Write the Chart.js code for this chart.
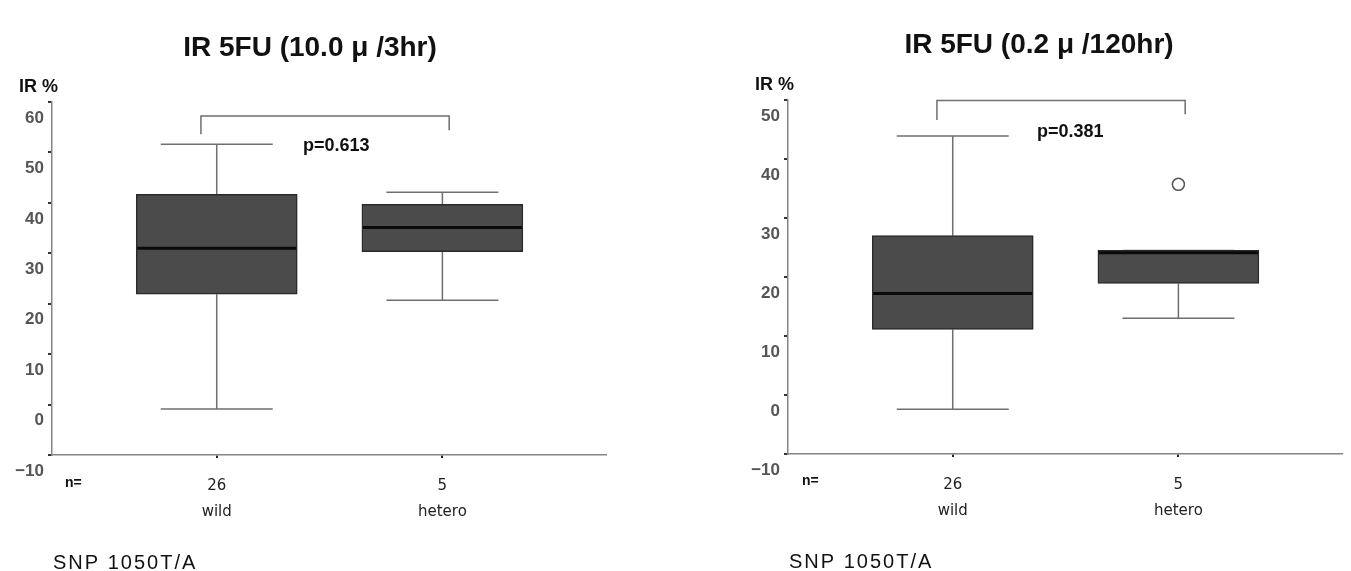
<!DOCTYPE html>
<html>
<head>
<meta charset="utf-8">
<script src="https://cdn.jsdelivr.net/npm/chart.js@4.4.1/dist/chart.umd.min.js"></script>
<style>
  body { margin: 0; background: #fff; }
  .panel { position: absolute; top: 0; }
</style>
</head>
<body>
<div class="panel" style="left:0"><canvas id="left" width="675" height="571"></canvas></div>
<div class="panel" style="left:675px"><canvas id="right" width="676" height="571"></canvas></div>
<script>
const groups = ['wild', 'hetero'];
const groupPos = [1, 2];

// IR 5FU (10.0 μ/3hr)
const leftN = ['26', '5'];
const leftMin = [-0.9, 20.7];
const leftQ1 = [21.9, 30.3];
const leftMedian = [31.0, 35.1];
const leftQ3 = [41.7, 39.7];
const leftMax = [51.6, 42.1];
const leftOutliers = [];
const leftBracket = [53.6, 57.2, 57.2, 54.4];
const leftP = 'p=0.613';

// IR 5FU (0.2 μ/120hr)
const rightN = ['26', '5'];
const rightMin = [-2.4, 13.0];
const rightQ1 = [11.1, 18.9];
const rightMedian = [17.2, 24.1];
const rightQ3 = [27.0, 24.5];
const rightMax = [43.9, 24.5];
const rightOutliers = [{ x: 2, y: 35.7 }];
const rightBracket = [46.6, 49.9, 49.9, 47.6];
const rightP = 'p=0.381';

const bracketX = [0.93, 0.93, 2.03, 2.03];

const SANS = '"Liberation Sans", Arial, sans-serif';
const GOTHIC = '"DejaVu Sans", "Noto Sans CJK JP", sans-serif';

// whiskers, caps and median lines, placed with the chart's own scales
const boxPlot = {
    id: 'boxPlot',
    beforeDatasetsDraw(chart, args, opts) {
        const { ctx, scales: { x, y } } = chart;
        ctx.save();
        ctx.strokeStyle = '#6f6f6f';
        ctx.lineWidth = 1.5;
        opts.pos.forEach((p, i) => {
            const cx = x.getPixelForValue(p);
            const half = opts.capWidth / 2;
            ctx.beginPath();
            ctx.moveTo(cx, y.getPixelForValue(opts.min[i]));
            ctx.lineTo(cx, y.getPixelForValue(opts.q1[i]));
            ctx.moveTo(cx, y.getPixelForValue(opts.q3[i]));
            ctx.lineTo(cx, y.getPixelForValue(opts.max[i]));
            [opts.min[i], opts.max[i]].forEach(v => {
                const py = y.getPixelForValue(v);
                ctx.moveTo(cx - half, py);
                ctx.lineTo(cx + half, py);
            });
            ctx.stroke();
        });
        ctx.restore();
    },
    afterDatasetsDraw(chart, args, opts) {
        const { ctx, scales: { x, y } } = chart;
        ctx.save();
        ctx.strokeStyle = '#0a0a0a';
        ctx.lineWidth = 3;
        opts.pos.forEach((p, i) => {
            const cx = x.getPixelForValue(p);
            const half = opts.boxWidth / 2 - 1;
            const py = y.getPixelForValue(opts.median[i]);
            ctx.beginPath();
            ctx.moveTo(cx - half, py);
            ctx.lineTo(cx + half, py);
            ctx.stroke();
        });
        ctx.restore();
    }
};

// free texts around the plot
const panelText = {
    id: 'panelText',
    afterDraw(chart, args, opts) {
        const ctx = chart.ctx;
        ctx.save();
        ctx.textBaseline = 'middle';
        opts.items.forEach(t => {
            ctx.font = t.font;
            ctx.fillStyle = t.color || '#111';
            ctx.textAlign = t.align || 'left';
            ctx.letterSpacing = t.spacing || '0px';
            ctx.fillText(t.text, t.x, t.y);
        });
        ctx.restore();
    }
};

function makeChart(id, d) {
    const ctx = document.getElementById(id).getContext('2d');
    return new Chart(ctx, {
        type: 'bar',
        data: {
            datasets: [{
                data: groupPos.map((p, i) => ({ x: p, y: [d.q1[i], d.q3[i]] })),
                backgroundColor: '#4b4b4b',
                borderColor: '#2a2a2a',
                borderWidth: 1.5,
                borderSkipped: false,
                barThickness: 161
            }, {
                type: 'scatter',
                data: d.outliers,
                pointStyle: 'circle',
                pointRadius: 6,
                backgroundColor: '#fff',
                borderColor: '#555',
                borderWidth: 1.5
            }, {
                type: 'line',
                data: bracketX.map((x, i) => ({ x: x, y: d.bracket[i] })),
                borderColor: '#6f6f6f',
                borderWidth: 1.5,
                pointRadius: 0,
                tension: 0,
                fill: false,
                clip: false
            }]
        },
        plugins: [boxPlot, panelText],
        options: {
            responsive: false,
            animation: false,
            events: [],
            layout: { padding: d.padding },
            plugins: {
                legend: { display: false },
                tooltip: { enabled: false },
                boxPlot: {
                    pos: groupPos, min: d.min, q1: d.q1, median: d.median, q3: d.q3, max: d.max,
                    capWidth: 112, boxWidth: 161
                },
                panelText: { items: d.texts }
            },
            scales: {
                x: {
                    type: 'linear',
                    min: 0.27,
                    max: 2.725,
                    offset: false,
                    afterFit: s => { s.height = 80; },
                    afterBuildTicks: s => { s.ticks = groupPos.map(v => ({ value: v })); },
                    grid: { drawOnChartArea: false, offset: false, tickLength: 3, color: '#222', lineWidth: 2 },
                    border: { color: '#858585', width: 1.5 },
                    ticks: {
                        callback: (v, i) => [d.n[i], groups[i]],
                        font: { family: GOTHIC, size: 15, lineHeight: 1.73 },
                        color: '#222',
                        padding: 15,
                        maxRotation: 0
                    }
                },
                y: {
                    min: d.yMin,
                    max: d.yMax,
                    afterFit: s => { s.width = d.yWidth; },
                    grid: { drawOnChartArea: false, tickLength: 4, color: '#333', lineWidth: 2 },
                    border: { color: '#858585', width: 1.5 },
                    ticks: {
                        stepSize: 10,
                        callback: v => v < 0 ? '\u2212' + Math.abs(v) : String(v),
                        font: { family: SANS, size: 17, weight: 'bold' },
                        color: '#555',
                        padding: 4,
                        labelOffset: 16
                    }
                }
            }
        }
    });
}

const titleFont = 'bold 28px ' + SANS;
const labelFont = 'bold 18px ' + SANS;
const footFont = '20px ' + SANS;

makeChart('left', {
    n: leftN, min: leftMin, q1: leftQ1, median: leftMedian, q3: leftQ3, max: leftMax,
    outliers: leftOutliers, bracket: leftBracket,
    yMin: -10, yMax: 60, yWidth: 52,
    padding: { top: 102, right: 69, bottom: 36, left: 0 },
    texts: [
        { text: 'IR 5FU (10.0 \u03bc /3hr)', x: 310, y: 48, font: titleFont, align: 'center' },
        { text: 'IR %', x: 19, y: 87, font: labelFont },
        { text: leftP, x: 303, y: 146, font: labelFont },
        { text: 'n=', x: 65, y: 483, font: 'bold 14px ' + SANS },
        { text: 'SNP 1050T/A', x: 53, y: 563, font: footFont, spacing: '2px' }
    ]
});

makeChart('right', {
    n: rightN, min: rightMin, q1: rightQ1, median: rightMedian, q3: rightQ3, max: rightMax,
    outliers: rightOutliers, bracket: rightBracket,
    yMin: -10, yMax: 50, yWidth: 113,
    padding: { top: 100, right: 9, bottom: 37, left: 0 },
    texts: [
        { text: 'IR 5FU (0.2 \u03bc /120hr)', x: 364, y: 45, font: titleFont, align: 'center' },
        { text: 'IR %', x: 80, y: 85, font: labelFont },
        { text: rightP, x: 362, y: 132, font: labelFont },
        { text: 'n=', x: 127, y: 481, font: 'bold 14px ' + SANS },
        { text: 'SNP 1050T/A', x: 114, y: 562, font: footFont, spacing: '2px' }
    ]
});
</script>
</body>
</html>
